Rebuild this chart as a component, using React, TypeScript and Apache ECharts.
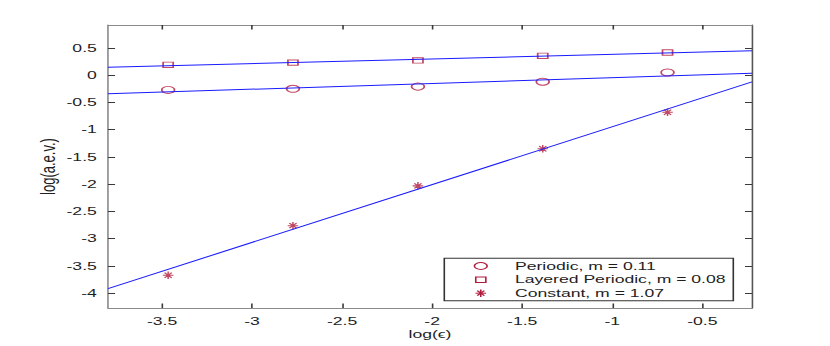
import React, { useEffect, useRef } from "react";
import * as echarts from "echarts";

// ---- data ----
const xVals = [-3.466, -2.773, -2.079, -1.386, -0.693];
const periodic = [-0.27, -0.25, -0.21, -0.12, 0.05];
const layered = [0.19, 0.23, 0.27, 0.355, 0.415];
const constant = [-3.67, -2.76, -2.03, -1.35, -0.68];

const fitX = [-3.8, -0.224];
const periodicFit = [-0.343, 0.037];
const layeredFit = [0.147, 0.446];
const constantFit = [-3.915, -0.123];

const xTicks = [-3.5, -3, -2.5, -2, -1.5, -1, -0.5];
const yTicks = [-4, -3.5, -3, -2.5, -2, -1.5, -1, -0.5, 0, 0.5];

const legendLabels = [
  "Periodic, m = 0.11",
  "Layered Periodic, m = 0.08",
  "Constant, m = 1.07",
];

const X_MIN = -3.8;
const X_MAX = -0.224;
const Y_MIN = -4.27;
const Y_MAX = 0.92;

// ---- layout ----
const SCREEN_W = 830;
const H = 346;
const W = 519; // drawn width, stretched horizontally to SCREEN_W
const S = SCREEN_W / W;

const MARK = "#b01c3c";
const BLUE = "#1a1aff";
const AXIS = "#8a8a8a";
const TICK = "#3a3a3a";
const TXT = "#1e1e1e";
const FONT = "Liberation Sans";

const STAR_PATH =
  "path://M0,5L10,5M5,0L5,10M1.6,1.6L8.4,8.4M8.4,1.6L1.6,8.4";

export default function App() {
  const ref = useRef<HTMLDivElement>(null);

  useEffect(() => {
    if (!ref.current) return;
    const chart = echarts.init(ref.current, undefined, { renderer: "svg" });

    const pairs = (ys: number[]) => xVals.map((x, i) => [x, ys[i]]);
    const fit = (ys: number[]) => fitX.map((x, i) => [x, ys[i]]);

    const gridLeft = 108 / S;
    const gridRight = W - 752 / S;

    const tickCommon = {
      show: true,
      inside: true,
      length: 4.5,
      lineStyle: { color: TICK, width: 1 },
    };

    const lx = 480.8 / S; // legend marker centre
    const tx = 515 / S; // legend text start
    const rows = [266, 279.7, 293.2];

    const hollow = { color: "rgba(0,0,0,0)", borderColor: MARK, borderWidth: 1 };

    const option: any = {
      animation: false,
      backgroundColor: "#ffffff",
      grid: {
        left: gridLeft,
        right: gridRight,
        top: 25,
        bottom: 38,
        containLabel: false,
        outerBoundsMode: "none",
      },
      xAxis: [
        {
          type: "value",
          min: X_MIN,
          max: X_MAX,
          position: "bottom",
          name: "log(ϵ)",
          nameLocation: "middle",
          nameGap: 21,
          nameMoveOverlap: false,
          nameTextStyle: { fontFamily: FONT, fontSize: 11, color: TXT },
          axisLine: { show: true, onZero: false, lineStyle: { color: AXIS, width: 1 } },
          axisTick: { ...tickCommon, customValues: xTicks },
          axisLabel: {
            customValues: xTicks,
            margin: 8,
            fontFamily: FONT,
            fontSize: 11,
            color: TXT,
            formatter: (v: number) => String(v),
          },
          splitLine: { show: false },
        },
        {
          type: "value",
          min: X_MIN,
          max: X_MAX,
          position: "top",
          axisLine: { show: true, onZero: false, lineStyle: { color: AXIS, width: 1 } },
          axisTick: { ...tickCommon, customValues: xTicks },
          axisLabel: { show: false },
          splitLine: { show: false },
        },
      ],
      yAxis: [
        {
          type: "value",
          min: Y_MIN,
          max: Y_MAX,
          position: "left",
          name: "log(a.e.v.)",
          nameLocation: "middle",
          nameGap: 31,
          nameMoveOverlap: false,
          nameTextStyle: { fontFamily: FONT, fontSize: 13, color: TXT },
          axisLine: { show: true, onZero: false, lineStyle: { color: AXIS, width: 1 } },
          axisTick: { ...tickCommon, length: 4.4, customValues: yTicks },
          axisLabel: {
            customValues: yTicks,
            margin: 7,
            fontFamily: FONT,
            fontSize: 11,
            color: TXT,
            formatter: (v: number) => String(v),
          },
          splitLine: { show: false },
        },
        {
          type: "value",
          min: Y_MIN,
          max: Y_MAX,
          position: "right",
          axisLine: { show: true, onZero: false, lineStyle: { color: "#555", width: 1 } },
          axisTick: { ...tickCommon, length: 4.4, customValues: yTicks },
          axisLabel: { show: false },
          splitLine: { show: false },
        },
      ],
      series: [
        {
          type: "scatter",
          name: legendLabels[0],
          data: pairs(periodic),
          symbol: "circle",
          symbolSize: [8, 7],
          itemStyle: hollow,
          z: 3,
        },
        {
          type: "scatter",
          name: legendLabels[1],
          data: pairs(layered),
          symbol: "rect",
          symbolSize: [6.3, 5.4],
          itemStyle: hollow,
          z: 3,
        },
        {
          type: "scatter",
          name: legendLabels[2],
          data: pairs(constant),
          symbol: STAR_PATH,
          symbolSize: [6.6, 7.5],
          itemStyle: hollow,
          z: 3,
        },
        {
          type: "line",
          data: fit(periodicFit),
          symbol: "none",
          lineStyle: { color: BLUE, width: 1 },
          z: 4,
        },
        {
          type: "line",
          data: fit(layeredFit),
          symbol: "none",
          lineStyle: { color: BLUE, width: 1 },
          z: 4,
        },
        {
          type: "line",
          data: fit(constantFit),
          symbol: "none",
          lineStyle: { color: BLUE, width: 1 },
          z: 4,
        },
      ],
      graphic: [
        {
          type: "rect",
          shape: { x: 444.3 / S, y: 258.3, width: (733.3 - 444.3) / S, height: 42.4 },
          style: { fill: "#ffffff", stroke: "#333333", lineWidth: 1 },
          z: 10,
        },
        {
          type: "ellipse",
          shape: { cx: lx, cy: rows[0], rx: 4, ry: 3.5 },
          style: { fill: "none", stroke: MARK, lineWidth: 1 },
          z: 11,
        },
        {
          type: "rect",
          shape: { x: lx - 3.15, y: rows[1] - 2.7, width: 6.3, height: 5.4 },
          style: { fill: "none", stroke: MARK, lineWidth: 1 },
          z: 11,
        },
        {
          type: "group",
          z: 11,
          children: [
            { type: "line", shape: { x1: lx - 3.3, y1: rows[2], x2: lx + 3.3, y2: rows[2] } },
            { type: "line", shape: { x1: lx, y1: rows[2] - 3.7, x2: lx, y2: rows[2] + 3.7 } },
            { type: "line", shape: { x1: lx - 2.2, y1: rows[2] - 2.5, x2: lx + 2.2, y2: rows[2] + 2.5 } },
            { type: "line", shape: { x1: lx + 2.2, y1: rows[2] - 2.5, x2: lx - 2.2, y2: rows[2] + 2.5 } },
          ].map((c) => ({ ...c, z: 11, style: { stroke: MARK, lineWidth: 1 } })),
        },
        ...legendLabels.map((t, i) => ({
          type: "text",
          x: tx,
          y: rows[i],
          z: 11,
          style: {
            text: t,
            fill: TXT,
            font: `11px "${FONT}"`,
            verticalAlign: "middle",
            align: "left",
          },
        })),
      ],
    };

    chart.setOption(option);
    return () => chart.dispose();
  }, []);

  return (
    <div
      style={{
        position: "fixed",
        left: 0,
        top: 0,
        width: SCREEN_W,
        height: H,
        overflow: "hidden",
        background: "#fff",
      }}
    >
      <div
        ref={ref}
        style={{
          width: W,
          height: H,
          transform: `scaleX(${S})`,
          transformOrigin: "0 0",
        }}
      />
    </div>
  );
}
